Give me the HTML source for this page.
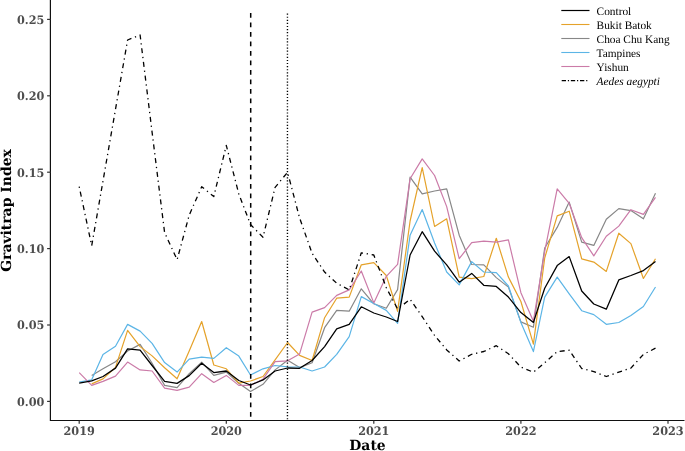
<!DOCTYPE html>
<html><head><meta charset="utf-8"><title>Gravitrap Index</title>
<style>
html,body{margin:0;padding:0;background:#fff}
svg{display:block}
.tk{font-family:"DejaVu Serif",serif;font-weight:bold;font-size:11.73px;fill:#4d4d4d;text-rendering:geometricPrecision}
.ti{font-family:"DejaVu Serif",serif;font-weight:bold;font-size:13.95px;fill:#000;text-rendering:geometricPrecision}
.lg{font-family:"Liberation Serif",serif;font-size:11.35px;fill:#000;text-rendering:geometricPrecision}
</style></head><body>
<svg width="685" height="451" viewBox="0 0 685 451">
<rect width="685" height="451" fill="#fff"/>
<polyline fill="none" stroke="#878787" stroke-width="1.2" stroke-linejoin="round" points="91.7,375.4 103.0,368.8 115.5,361.7 127.6,351.0 140.1,344.4 152.1,363.2 164.6,385.4 177.1,387.6 189.2,373.7 201.7,362.1 213.8,375.4 226.3,372.1 238.8,383.2 250.5,391.6 263.0,384.3 275.1,369.9 287.6,360.2 299.6,367.6 312.1,362.8 324.6,327.7 336.7,310.4 349.2,311.2 361.3,288.8 373.8,303.8 386.3,308.2 397.6,289.6 410.1,177.1 422.2,193.9 434.6,191.0 446.7,188.8 459.2,235.2 471.7,264.5 483.8,264.9 496.3,277.6 508.4,287.1 520.9,321.9 533.4,327.2 544.7,248.0 557.2,227.4 569.2,202.1 581.7,242.1 593.8,245.4 606.3,219.2 618.8,208.6 630.9,210.6 643.4,218.8 655.5,193.3"/>
<polyline fill="none" stroke="#E5A22A" stroke-width="1.2" stroke-linejoin="round" points="91.7,383.9 103.0,378.9 115.5,367.4 127.6,330.4 140.1,346.6 152.1,355.9 164.6,367.7 177.1,378.8 189.2,351.0 201.7,321.5 213.8,365.0 226.3,368.8 238.8,383.2 250.5,381.0 263.0,376.5 275.1,359.9 287.6,342.5 299.6,355.4 312.1,360.5 324.6,317.7 336.7,298.2 349.2,297.1 361.3,264.8 373.8,262.6 386.3,275.5 397.6,311.4 410.1,221.0 422.2,167.7 434.6,226.5 446.7,218.8 459.2,277.1 471.7,278.7 483.8,276.5 496.3,238.3 508.4,277.1 520.9,301.5 533.4,344.2 544.7,258.0 557.2,215.9 569.2,211.2 581.7,258.8 593.8,262.1 606.3,271.4 618.8,233.2 630.9,243.6 643.4,278.5 655.5,258.8"/>
<polyline fill="none" stroke="#5CB5E6" stroke-width="1.2" stroke-linejoin="round" points="79.2,382.0 91.7,379.8 103.0,354.4 115.5,346.2 127.6,324.4 140.1,331.1 152.1,343.3 164.6,362.6 177.1,372.1 189.2,359.2 201.7,357.2 213.8,358.4 226.3,347.7 238.8,356.1 250.5,375.0 263.0,368.8 275.1,365.5 287.6,366.8 299.6,367.0 312.1,371.0 324.6,367.0 336.7,354.3 349.2,336.6 361.3,296.6 373.8,303.5 386.3,310.4 397.6,323.3 410.1,235.2 422.2,209.5 434.6,243.0 446.7,272.0 459.2,284.9 471.7,261.6 483.8,272.0 496.3,272.7 508.4,286.0 520.9,322.6 533.4,351.6 544.7,297.1 557.2,277.1 569.2,293.8 581.7,310.7 593.8,314.6 606.3,324.3 618.8,322.5 630.9,315.4 643.4,306.5 655.5,287.0"/>
<polyline fill="none" stroke="#CB7BA8" stroke-width="1.2" stroke-linejoin="round" points="79.2,372.6 91.7,385.4 103.0,381.4 115.5,376.1 127.6,362.1 140.1,369.9 152.1,371.0 164.6,388.1 177.1,390.3 189.2,387.2 201.7,373.7 213.8,382.5 226.3,375.4 238.8,385.4 250.5,385.4 263.0,379.2 275.1,361.7 287.6,360.8 299.6,353.9 312.1,312.1 324.6,307.6 336.7,295.4 349.2,289.9 361.3,271.0 373.8,302.9 386.3,276.3 397.6,264.4 410.1,178.8 422.2,158.9 434.6,175.5 446.7,206.6 459.2,258.7 471.7,242.6 483.8,241.2 496.3,242.2 508.4,239.9 520.9,292.7 533.4,321.2 544.7,251.3 557.2,188.8 569.2,203.3 581.7,237.6 593.8,255.9 606.3,236.3 618.8,226.1 630.9,209.7 643.4,214.4 655.5,197.3"/>
<polyline fill="none" stroke="#000000" stroke-width="1.28" stroke-linejoin="round" points="79.2,383.2 91.7,380.9 103.0,376.5 115.5,368.1 127.6,348.8 140.1,350.2 152.1,365.5 164.6,381.4 177.1,383.4 189.2,375.6 201.7,363.2 213.8,372.6 226.3,371.0 238.8,380.5 250.5,385.0 263.0,379.9 275.1,371.0 287.6,368.0 299.6,368.3 312.1,360.5 324.6,346.6 336.7,328.8 349.2,324.4 361.3,306.8 373.8,313.0 386.3,317.0 397.6,321.5 410.1,255.0 422.2,231.7 434.6,251.2 446.7,264.9 459.2,282.2 471.7,273.4 483.8,285.3 496.3,286.4 508.4,297.1 520.9,312.6 533.4,322.4 544.7,288.2 557.2,265.6 569.2,256.6 581.7,291.0 593.8,304.0 606.3,309.2 618.8,279.9 630.9,275.5 643.4,270.6 655.5,261.5"/>
<polyline fill="none" stroke="#000" stroke-width="1.3" stroke-dasharray="1.26 3.78 5.03 3.78" stroke-linejoin="round" points="79.2,186.7 91.7,245.7 103.0,181.0 115.5,109.3 127.6,40.0 140.1,35.0 152.1,132.3 164.6,232.6 177.1,259.7 189.2,215.2 201.7,186.7 213.8,196.5 226.3,145.4 238.8,193.9 250.5,224.5 263.0,237.3 275.1,187.3 287.6,172.3 299.6,218.0 312.1,253.3 324.6,272.1 336.7,283.2 349.2,289.9 361.3,252.8 373.8,255.0 386.3,287.7 397.6,309.0 410.1,299.3 422.2,316.6 434.6,335.5 446.7,349.9 459.2,361.0 471.7,354.3 483.8,351.5 496.3,345.7 508.4,353.8 520.9,367.1 533.4,372.2 544.7,362.7 557.2,351.6 569.2,350.2 581.7,368.5 593.8,371.6 606.3,376.5 618.8,372.1 630.9,368.1 643.4,354.4 655.5,348.2"/>
<line x1="250.7" x2="250.7" y1="12.9" y2="420" stroke="#000" stroke-width="1.5" stroke-dasharray="4.75 4.75"/>
<line x1="287.45" x2="287.45" y1="13.55" y2="420" stroke="#000" stroke-width="1.4" stroke-dasharray="1.15 1.939"/>
<path d="M50.4 0V420.5H684.5" fill="none" stroke="#111" stroke-width="1.2"/>
<line x1="47.1" x2="50.5" y1="401.4" y2="401.4" stroke="#333" stroke-width="1.2"/>
<text transform="translate(44.4 405.7) scale(0.96 1)" text-anchor="end" class="tk">0.00</text>
<line x1="47.1" x2="50.5" y1="325.0" y2="325.0" stroke="#333" stroke-width="1.2"/>
<text transform="translate(44.4 329.3) scale(0.96 1)" text-anchor="end" class="tk">0.05</text>
<line x1="47.1" x2="50.5" y1="248.6" y2="248.6" stroke="#333" stroke-width="1.2"/>
<text transform="translate(44.4 252.9) scale(0.96 1)" text-anchor="end" class="tk">0.10</text>
<line x1="47.1" x2="50.5" y1="172.2" y2="172.2" stroke="#333" stroke-width="1.2"/>
<text transform="translate(44.4 176.5) scale(0.96 1)" text-anchor="end" class="tk">0.15</text>
<line x1="47.1" x2="50.5" y1="95.8" y2="95.8" stroke="#333" stroke-width="1.2"/>
<text transform="translate(44.4 100.1) scale(0.96 1)" text-anchor="end" class="tk">0.20</text>
<line x1="47.1" x2="50.5" y1="19.4" y2="19.4" stroke="#333" stroke-width="1.2"/>
<text transform="translate(44.4 23.7) scale(0.96 1)" text-anchor="end" class="tk">0.25</text>
<line x1="79.2" x2="79.2" y1="420.5" y2="423.8" stroke="#333" stroke-width="1.2"/>
<text transform="translate(79.2 434.6) scale(0.96 1)" text-anchor="middle" class="tk">2019</text>
<line x1="226.3" x2="226.3" y1="420.5" y2="423.8" stroke="#333" stroke-width="1.2"/>
<text transform="translate(226.3 434.6) scale(0.96 1)" text-anchor="middle" class="tk">2020</text>
<line x1="373.8" x2="373.8" y1="420.5" y2="423.8" stroke="#333" stroke-width="1.2"/>
<text transform="translate(373.8 434.6) scale(0.96 1)" text-anchor="middle" class="tk">2021</text>
<line x1="520.9" x2="520.9" y1="420.5" y2="423.8" stroke="#333" stroke-width="1.2"/>
<text transform="translate(520.9 434.6) scale(0.96 1)" text-anchor="middle" class="tk">2022</text>
<line x1="668.0" x2="668.0" y1="420.5" y2="423.8" stroke="#333" stroke-width="1.2"/>
<text transform="translate(668.0 434.6) scale(0.96 1)" text-anchor="middle" class="tk">2023</text>
<text x="367.5" y="449.6" text-anchor="middle" class="ti">Date</text>
<text transform="translate(11.4 210.5) rotate(-90)" text-anchor="middle" class="ti">Gravitrap Index</text>
<line x1="561.3" x2="589.5" y1="10.5" y2="10.5" stroke="#000" stroke-width="1.2"/>
<text x="596.6" y="15.0" class="lg">Control</text>
<line x1="561.3" x2="589.5" y1="24.5" y2="24.5" stroke="#E5A22A" stroke-width="1.1"/>
<text x="596.6" y="29.0" class="lg">Bukit Batok</text>
<line x1="561.3" x2="589.5" y1="38.5" y2="38.5" stroke="#878787" stroke-width="1.1"/>
<text x="596.6" y="43.0" class="lg">Choa Chu Kang</text>
<line x1="561.3" x2="589.5" y1="52.5" y2="52.5" stroke="#5CB5E6" stroke-width="1.1"/>
<text x="596.6" y="57.0" class="lg">Tampines</text>
<line x1="561.3" x2="589.5" y1="66.5" y2="66.5" stroke="#CB7BA8" stroke-width="1.1"/>
<text x="596.6" y="71.0" class="lg">Yishun</text>
<line x1="561.7" x2="588.0" y1="80.5" y2="80.5" stroke="#000" stroke-width="1.25" stroke-dasharray="4.3 1.85 1.2 1.8"/>
<text x="596.6" y="85.0" class="lg" font-style="italic">Aedes aegypti</text>
</svg>
</body></html>
